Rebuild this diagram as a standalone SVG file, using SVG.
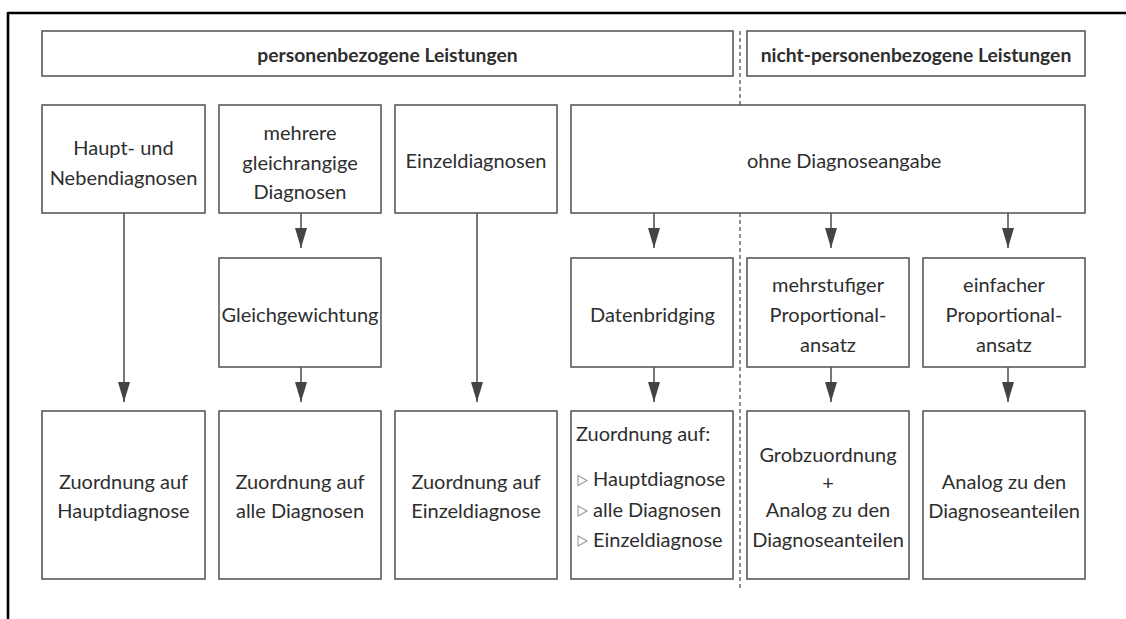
<svg xmlns="http://www.w3.org/2000/svg" width="1126" height="619" viewBox="0 0 1126 619">
  <style>
    .box { fill: #ffffff; stroke: #5a5a5a; stroke-width: 1.6; }
    .t { font-family: Lato, "Noto Sans", "Liberation Sans", sans-serif; font-size: 20px; fill: #2e2e2e; text-anchor: middle; }
    .l { text-anchor: start; }
    .hd { font-weight: bold; font-size: 19.3px; }
    .edge { stroke: #555555; stroke-width: 1.6; fill: none; marker-end: url(#arrow); }
    .bullet { fill: none; stroke: #9a9a9a; stroke-width: 1.1; }
  </style>
  <defs>
    <marker id="arrow" viewBox="0 -6 20 12" refX="20" refY="0" markerWidth="20" markerHeight="12" markerUnits="userSpaceOnUse" orient="auto">
      <path d="M0,-6 L20,0 L0,6 z" fill="#444444"/>
    </marker>
  </defs>

  <rect width="1126" height="619" fill="#ffffff"/>

  <!-- outer frame: top and left rule -->
  <g id="frame">
    <line x1="8" y1="13" x2="1126" y2="13" stroke="#000" stroke-width="2.6"/>
    <line x1="8" y1="12" x2="8" y2="619" stroke="#000" stroke-width="2.6"/>
  </g>

  <!-- divider between the two service groups -->
  <line id="divider" x1="740" y1="31" x2="740" y2="588" stroke="#555" stroke-width="1.3" stroke-dasharray="4,3"/>

  <!-- headers -->
  <g id="hdr-personen">
    <rect class="box" x="42" y="31" width="691" height="45"/>
    <text class="t hd" x="387.5" y="62">personenbezogene Leistungen</text>
  </g>
  <g id="hdr-nicht-personen">
    <rect class="box" x="747" y="31" width="338" height="45"/>
    <text class="t hd" x="916" y="62">nicht-personenbezogene Leistungen</text>
  </g>

  <!-- row 1 -->
  <g id="n-haupt-neben">
    <rect class="box" x="42" y="105" width="163" height="108"/>
    <text class="t" x="123.5" y="155">Haupt- und</text>
    <text class="t" x="123.5" y="185">Nebendiagnosen</text>
  </g>
  <g id="n-mehrere">
    <rect class="box" x="219" y="105" width="162" height="108"/>
    <text class="t" x="300" y="140">mehrere</text>
    <text class="t" x="300" y="170">gleichrangige</text>
    <text class="t" x="300" y="199">Diagnosen</text>
  </g>
  <g id="n-einzel">
    <rect class="box" x="395" y="105" width="162" height="108"/>
    <text class="t" x="476" y="168">Einzeldiagnosen</text>
  </g>
  <g id="n-ohne">
    <rect class="box" x="571" y="105" width="514" height="108"/>
    <text class="t l" x="747" y="168">ohne Diagnoseangabe</text>
  </g>

  <!-- row 2 -->
  <g id="n-gleichgewichtung">
    <rect class="box" x="219" y="258" width="162" height="109"/>
    <text class="t" x="300" y="322">Gleichgewichtung</text>
  </g>
  <g id="n-datenbridging">
    <rect class="box" x="571" y="258" width="162" height="109"/>
    <text class="t" x="652.5" y="322">Datenbridging</text>
  </g>
  <g id="n-mehrstufig">
    <rect class="box" x="747" y="258" width="162" height="109"/>
    <text class="t" x="828" y="292">mehrstufiger</text>
    <text class="t" x="828" y="322">Proportional-</text>
    <text class="t" x="828" y="352">ansatz</text>
  </g>
  <g id="n-einfach">
    <rect class="box" x="923" y="258" width="162" height="109"/>
    <text class="t" x="1004" y="292">einfacher</text>
    <text class="t" x="1004" y="322">Proportional-</text>
    <text class="t" x="1004" y="352">ansatz</text>
  </g>

  <!-- row 3 -->
  <g id="n-zuo-haupt">
    <rect class="box" x="42" y="411" width="163" height="168"/>
    <text class="t" x="123.5" y="489">Zuordnung auf</text>
    <text class="t" x="123.5" y="518">Hauptdiagnose</text>
  </g>
  <g id="n-zuo-alle">
    <rect class="box" x="219" y="411" width="162" height="168"/>
    <text class="t" x="300" y="489">Zuordnung auf</text>
    <text class="t" x="300" y="518">alle Diagnosen</text>
  </g>
  <g id="n-zuo-einzel">
    <rect class="box" x="395" y="411" width="162" height="168"/>
    <text class="t" x="476" y="489">Zuordnung auf</text>
    <text class="t" x="476" y="518">Einzeldiagnose</text>
  </g>
  <g id="n-zuo-liste">
    <rect class="box" x="571" y="411" width="162" height="168"/>
    <text class="t l" x="576" y="441">Zuordnung auf:</text>
    <polygon class="bullet" points="578,475.5 587,480.5 578,485.5"/>
    <text class="t l" x="593" y="486">Hauptdiagnose</text>
    <polygon class="bullet" points="578,506 587,511 578,516"/>
    <text class="t l" x="593" y="516.5">alle Diagnosen</text>
    <polygon class="bullet" points="578,536 587,541 578,546"/>
    <text class="t l" x="593" y="546.5">Einzeldiagnose</text>
  </g>
  <g id="n-grob">
    <rect class="box" x="747" y="411" width="162" height="168"/>
    <text class="t" x="828" y="462">Grobzuordnung</text>
    <text class="t" x="828" y="490">+</text>
    <text class="t" x="828" y="517">Analog zu den</text>
    <text class="t" x="828" y="547">Diagnoseanteilen</text>
  </g>
  <g id="n-analog">
    <rect class="box" x="923" y="411" width="162" height="168"/>
    <text class="t" x="1004" y="489">Analog zu den</text>
    <text class="t" x="1004" y="518">Diagnoseanteilen</text>
  </g>

  <!-- connectors -->
  <g id="connectors">
    <line class="edge" x1="124" y1="213" x2="124" y2="402"/>
    <line class="edge" x1="301" y1="213" x2="301" y2="248"/>
    <line class="edge" x1="301" y1="367" x2="301" y2="402"/>
    <line class="edge" x1="477" y1="213" x2="477" y2="402"/>
    <line class="edge" x1="654" y1="213" x2="654" y2="248"/>
    <line class="edge" x1="654" y1="367" x2="654" y2="402"/>
    <line class="edge" x1="831" y1="213" x2="831" y2="248"/>
    <line class="edge" x1="831" y1="367" x2="831" y2="402"/>
    <line class="edge" x1="1008" y1="213" x2="1008" y2="248"/>
    <line class="edge" x1="1008" y1="367" x2="1008" y2="402"/>
  </g>
</svg>
